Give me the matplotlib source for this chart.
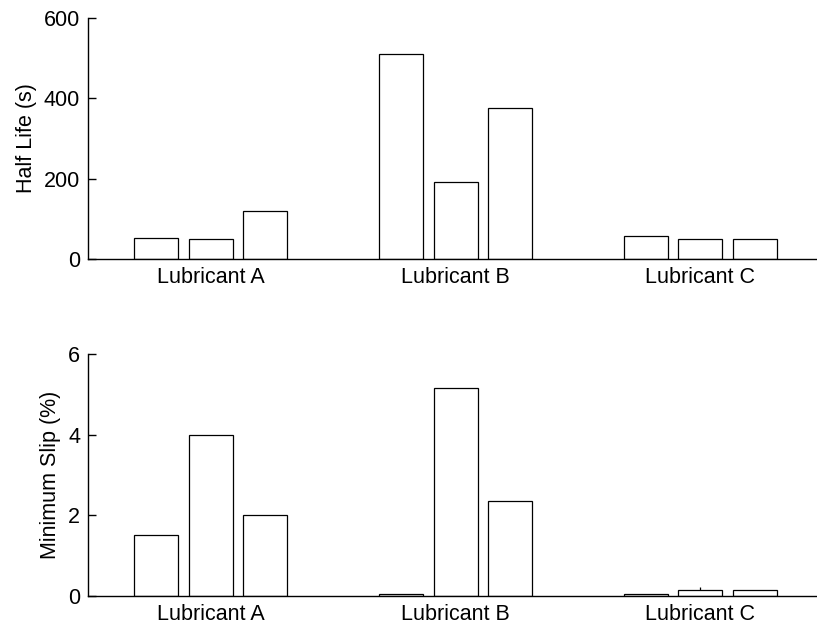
import matplotlib
matplotlib.use("Agg")
import matplotlib.pyplot as plt
import numpy as np

plt.rcParams['font.family'] = ['Liberation Sans', 'DejaVu Sans']

groups = ['Lubricant A', 'Lubricant B', 'Lubricant C']

# half life (s), one list per bar within a group
half_life_1 = [53, 510, 57]
half_life_2 = [49, 191, 49]
half_life_3 = [120, 375, 49]

# minimum slip (%)
min_slip_1 = [1.5, 0.03, 0.03]
min_slip_2 = [4.0, 5.17, 0.14]
min_slip_3 = [2.0, 2.36, 0.14]
# only one visible error bar (upper part), on Lubricant C, 2nd bar
min_slip_2_err_up = [0, 0, 0.08]

fig = plt.figure(figsize=(8.17, 6.26), dpi=100)
ax1 = fig.add_axes([0.1083, 0.5863, 0.8988, 0.3850])
ax2 = fig.add_axes([0.1083, 0.0484, 0.8988, 0.3856])

x = np.arange(1, len(groups) + 1)
w = 0.18
off = 0.2227
fs = 15.5


def grouped(ax, series, ylim, yticks, ylabel):
    for i, vals in enumerate(series):
        ax.bar(x + (i - 1) * off, vals, width=w, color='white',
               edgecolor='black', linewidth=0.9, zorder=2)
    ax.set_xlim(0.5, 3.5)
    ax.set_ylim(*ylim)
    ax.set_yticks(yticks)
    ax.set_xticks(x)
    ax.set_xticklabels(groups)
    ax.set_ylabel(ylabel, fontsize=fs, labelpad=5)
    ax.spines['top'].set_visible(False)
    ax.spines['right'].set_visible(False)
    ax.spines['left'].set_linewidth(1.0)
    ax.spines['bottom'].set_linewidth(1.0)
    ax.tick_params(axis='y', direction='in', length=6, width=1.0,
                   labelsize=fs, pad=6)
    ax.tick_params(axis='x', length=0, labelsize=fs, pad=6)


grouped(ax1, [half_life_1, half_life_2, half_life_3], (0, 600),
        [0, 200, 400, 600], 'Half Life (s)')
grouped(ax2, [min_slip_1, min_slip_2, min_slip_3], (0, 6),
        [0, 2, 4, 6], 'Minimum Slip (%)')

err = np.array([np.zeros(3), min_slip_2_err_up])
mask = np.array(min_slip_2_err_up) > 0
ax2.errorbar(x[mask], np.array(min_slip_2)[mask], yerr=err[:, mask],
             fmt='none', ecolor='black', elinewidth=0.9, capsize=0, zorder=3)

fig.savefig('out.png', dpi=100)
